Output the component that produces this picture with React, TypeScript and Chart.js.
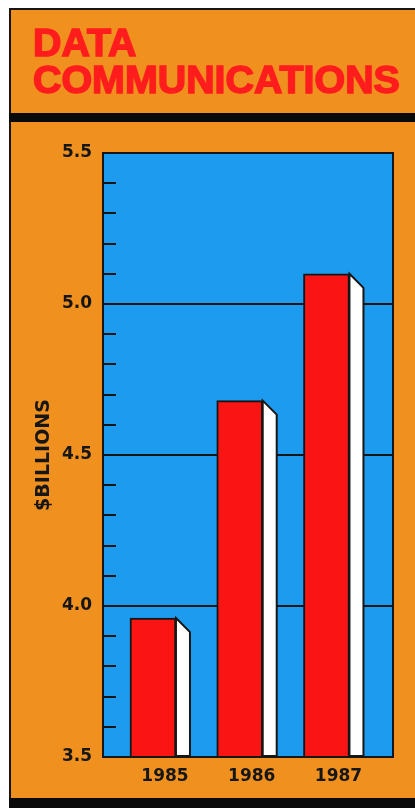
import { useEffect, useRef } from "react";
import { Chart, registerables } from "chart.js";

Chart.register(...registerables);

// ---- data ----
const years: number[] = [1985, 1986, 1987];
const values: number[] = [3.96, 4.68, 5.1];
const titleLines: string[] = ["DATA", "COMMUNICATIONS"];
const yAxisTitle = "$BILLIONS";
const yMin = 3.5;
const yMax = 5.5;
const yMinorStep = 0.1;

// ---- styles ----
const ORANGE = "#f0911f";
const BLUE = "#1c9bef";
const RED = "#fa1414";
const INK = "#161616";
const TITLE_RED = "#ff1c1c";

const isMajor = (v: number) => Math.abs(v * 2 - Math.round(v * 2)) < 1e-6;

const decorPlugin = {
  id: "decor",
  beforeDraw(chart: any) {
    const { ctx, chartArea: a } = chart;
    ctx.save();
    ctx.fillStyle = BLUE;
    ctx.fillRect(a.left, a.top, a.right - a.left, a.bottom - a.top);
    ctx.restore();
  },
  beforeDatasetsDraw(chart: any) {
    const { ctx, chartArea: a } = chart;
    const ys = chart.scales.y;
    ctx.save();
    ctx.strokeStyle = INK;
    ctx.lineWidth = 2;
    ys.ticks.forEach((t: any) => {
      if (isMajor(t.value)) return;
      const py = Math.round(ys.getPixelForValue(t.value));
      ctx.beginPath();
      ctx.moveTo(a.left, py);
      ctx.lineTo(a.left + 13, py);
      ctx.stroke();
    });
    ctx.restore();
  },
  afterDatasetsDraw(chart: any) {
    const { ctx, chartArea: a } = chart;
    const meta = chart.getDatasetMeta(0);
    ctx.save();
    ctx.lineJoin = "miter";
    meta.data.forEach((bar: any) => {
      const { x, y, base, width } = bar.getProps(["x", "y", "base", "width"], true);
      const r = x + width / 2;
      const b = Math.min(base, a.bottom);
      const d = 14;
      ctx.beginPath();
      ctx.moveTo(r, y);
      ctx.lineTo(r + d, y + d);
      ctx.lineTo(r + d, b);
      ctx.lineTo(r, b);
      ctx.closePath();
      ctx.fillStyle = "#ffffff";
      ctx.fill();
      ctx.strokeStyle = INK;
      ctx.lineWidth = 2;
      ctx.stroke();
    });
    ctx.strokeStyle = INK;
    ctx.lineWidth = 2;
    ctx.strokeRect(a.left, a.top, a.right - a.left, a.bottom - a.top);
    ctx.restore();
  },
};

function BarChart() {
  const ref = useRef<HTMLCanvasElement | null>(null);
  useEffect(() => {
    if (!ref.current) return;
    const chart = new Chart(ref.current, {
      type: "bar",
      data: {
        datasets: [
          {
            data: years.map((yr, i) => ({ x: yr, y: values[i] })),
            backgroundColor: RED,
            borderColor: INK,
            borderWidth: 2,
            barThickness: 46,
            base: yMin,
          },
        ],
      },
      options: {
        animation: false,
        responsive: false,
        maintainAspectRatio: false,
        layout: { padding: { left: 0, top: 31, right: 22, bottom: 0 } },
        plugins: { legend: { display: false }, tooltip: { enabled: false } },
        scales: {
          x: {
            type: "linear",
            offset: false,
            min: 1984.424,
            max: 1987.767,
            afterBuildTicks: (scale: any) => {
              scale.ticks = years.map((v) => ({ value: v }));
            },
            afterFit: (scale: any) => {
              scale.height = 41;
            },
            grid: { display: false, drawTicks: false },
            border: { display: true, color: INK, width: 2 },
            ticks: {
              autoSkip: false,
              maxRotation: 0,
              padding: 9,
              labelOffset: 12,
              color: INK,
              font: { family: "'DejaVu Sans', sans-serif", weight: "bold", size: 17 },
              callback: (v: any) => String(v),
            },
          },
          y: {
            min: yMin,
            max: yMax,
            afterFit: (scale: any) => {
              scale.width = 92;
            },
            grid: {
              drawTicks: false,
              color: (c: any) => (c.tick && isMajor(c.tick.value) ? INK : "rgba(0,0,0,0)"),
              lineWidth: 2,
            },
            border: { display: true, color: INK, width: 2 },
            ticks: {
              stepSize: yMinorStep,
              autoSkip: false,
              maxTicksLimit: 40,
              padding: 11,
              color: INK,
              font: { family: "'DejaVu Sans', sans-serif", weight: "bold", size: 17 },
              callback: (v: any) => (isMajor(Number(v)) ? Number(v).toFixed(1) : ""),
            },
            title: {
              display: true,
              text: yAxisTitle,
              color: INK,
              padding: { top: 22, bottom: 0 },
              font: { family: "'DejaVu Sans', sans-serif", weight: "bold", size: 19 },
            },
          },
        },
      },
      plugins: [decorPlugin],
    } as any);
    return () => chart.destroy();
  }, []);
  return <canvas ref={ref} width={404} height={676} style={{ display: "block", width: 404, height: 676 }} />;
}

export default function App() {
  const titleStyle: React.CSSProperties = {
    position: "absolute",
    left: 33,
    margin: 0,
    fontFamily: "'Liberation Sans', Arial, sans-serif",
    fontWeight: "bold",
    fontSize: 39.4,
    lineHeight: "40px",
    color: TITLE_RED,
    WebkitTextStroke: `1.5px ${TITLE_RED}`,
    whiteSpace: "nowrap",
  };
  return (
    <div style={{ position: "absolute", left: 0, top: 0, width: 415, height: 808, background: "#ffffff", overflow: "hidden" }}>
      <div
        style={{
          position: "absolute",
          left: 9,
          top: 8,
          width: 406,
          height: 790,
          background: ORANGE,
          borderTop: `2px solid ${INK}`,
          borderLeft: `2px solid ${INK}`,
          boxSizing: "border-box",
        }}
      />
      <div style={{ ...titleStyle, top: 22 }}>{titleLines[0]}</div>
      <div style={{ ...titleStyle, top: 59 }}>{titleLines[1]}</div>
      <div style={{ position: "absolute", left: 9, top: 113, width: 406, height: 9, background: "#0a0a0a" }} />
      <div style={{ position: "absolute", left: 9, top: 798, width: 406, height: 10, background: "#0a0a0a" }} />
      <div style={{ position: "absolute", left: 11, top: 122 }}>
        <BarChart />
      </div>
    </div>
  );
}
